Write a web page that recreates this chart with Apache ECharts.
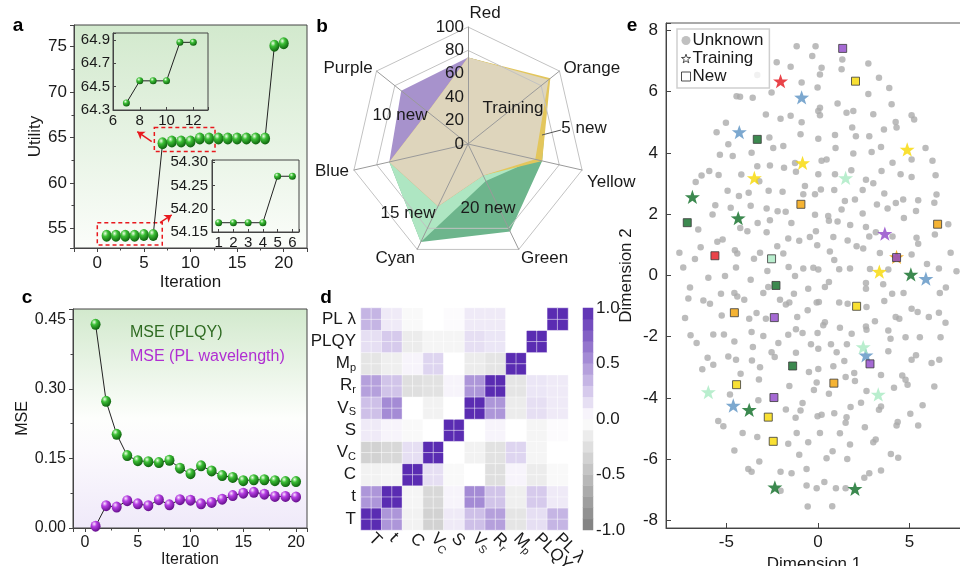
<!DOCTYPE html>
<html>
<head>
<meta charset="utf-8">
<title>Figure</title>
<script src="https://cdn.jsdelivr.net/npm/echarts@6.0.0/dist/echarts.min.js"></script>
<style>
  html, body { margin: 0; padding: 0; background: #fff; }
  #main { width: 960px; height: 566px; }
</style>
</head>
<body>
<div id="main"></div>
<script>
// panel a: utility per iteration
const iterations = [1, 2, 3, 4, 5, 6, 7, 8, 9, 10, 11, 12, 13, 14, 15, 16, 17, 18, 19, 20]
const utility = [54.17, 54.17, 54.17, 54.17, 54.27, 54.27, 64.36, 64.55, 64.55, 64.55,
  64.88, 64.88, 64.88, 64.88, 64.88, 64.88, 64.88, 64.88, 75.11, 75.37]

// panel b: radar, axes listed counter-clockwise from the top
const radarAxes = ['Red', 'Purple', 'Blue', 'Cyan', 'Green', 'Yellow', 'Orange']
const radarNames = ['20 new', '15 new', '10 new', '5 new', 'Training']
const new20 = [74, 44, 69, 93, 83, 65, 88]
const new15 = [74, 44, 69, 93, 35, 59, 88]
const new10 = [74, 73, 69, 59, 30, 59, 88]
const new5 = [74, 44, 69, 59, 30, 65, 90]
const training = [74, 44, 69, 59, 30, 59, 88]

// panel c: MSE per iteration
const msePLQY = [0.439, 0.273, 0.202, 0.156, 0.145, 0.143, 0.141, 0.146, 0.129, 0.117,
  0.134, 0.123, 0.113, 0.109, 0.102, 0.104, 0.104, 0.102, 0.100, 0.100]
const mseWave = [0.004, 0.048, 0.045, 0.059, 0.052, 0.048, 0.061, 0.050, 0.061, 0.060,
  0.052, 0.055, 0.062, 0.070, 0.075, 0.077, 0.073, 0.068, 0.068, 0.067]

// panel d: correlation matrix, rows/cols in order of corrLabels (bottom -> top)
const corrLabels = ['T', 't', 'C', 'V_C', 'S', 'V_S', 'R_r', 'M_p', 'PLQY', 'PL λ']
const corrMatrix = [
  [1, 0.5, -0.1, -0.35, 0.1, 0.3, 0.45, -0.2, 0.15, 0.35],
  [0.5, 1, -0.08, -0.3, 0.05, 0.55, 0.28, -0.12, 0.25, 0.1],
  [-0.1, -0.08, 1, 0.15, -0.05, 0.0, -0.25, 0.05, -0.15, -0.05],
  [-0.35, -0.3, 0.15, 1, 0.0, -0.1, -0.22, 0.2, -0.08, 0.0],
  [0.1, 0.05, -0.05, 0.0, 1, 0.0, 0.05, 0.0, -0.08, 0.02],
  [0.3, 0.55, 0.0, -0.1, 0.0, 1, 0.5, -0.15, 0.15, 0.1],
  [0.45, 0.28, -0.25, -0.22, 0.05, 0.5, 1, -0.2, 0.12, 0.1],
  [-0.2, -0.12, 0.05, 0.2, 0.0, -0.15, -0.2, 1, 0.0, 0.0],
  [0.15, 0.25, -0.15, -0.08, -0.08, 0.15, 0.12, 0.0, 1, 0.0],
  [0.35, 0.1, -0.05, 0.0, 0.02, 0.1, 0.1, 0.0, 0.0, 1]
]
const colorbarSteps = [-0.95, -0.85, -0.75, -0.65, -0.55, -0.45, -0.35, -0.25, -0.15, -0.05,
  0.05, 0.15, 0.25, 0.35, 0.45, 0.55, 0.65, 0.75, 0.85, 0.95]

// panel e: embedding
const unknownPts = [
  [-1.16, 7.48], [-2.25, 6.96], [-1.49, 6.81], [-3.31, 6.54], [-0.89, 6.3], [-4.44, 5.85], [-4.25, 5.83],
  [-3.56, 5.8], [-2.53, 5.97], [-2.84, 5.25], [-2.04, 5.11], [-1.49, 5.21], [-0.89, 5.0], [-5.02, 4.98],
  [-5.53, 4.67], [-2.65, 4.5], [-0.95, 4.61], [-4.89, 4.28], [-2.44, 4.16], [-1.89, 4.22], [-3.62, 4.0],
  [-5.35, 3.94], [-4.65, 3.9], [-3.31, 3.56], [-2.62, 3.59], [-1.85, 3.51], [-1.25, 3.67], [-1.2, 3.38],
  [-5.93, 3.41], [-6.35, 3.26], [-6.67, 3.05], [-5.42, 3.28], [-4.18, 3.29], [-0.71, 2.92], [-3.2, 3.07],
  [-2.69, 2.76], [-1.93, 2.73], [-4.93, 2.76], [-4.31, 2.59], [-3.78, 2.7], [-0.8, 2.65], [-5.6, 2.29],
  [-5.75, 1.99], [-4.76, 2.21], [-3.67, 2.27], [-2.8, 2.18], [-2.2, 2.09], [-1.76, 2.08], [-3.29, 1.71],
  [-2.62, 1.8], [-1.45, 1.71], [-6.53, 1.5], [-4.24, 1.55], [-3.85, 1.44], [-2.8, 1.41], [-1.62, 1.2],
  [-1.02, 1.13], [-5.49, 1.1], [-5.2, 1.17], [-6.4, 0.92], [-7.56, 0.74], [-6.71, 0.53], [-4.53, 0.82],
  [-4.4, 0.71], [-3.16, 0.74], [-2.22, 0.95], [-1.89, 0.71], [-3.49, 0.54], [-7.35, 0.26], [-4.47, 0.26],
  [-2.76, 0.14], [-1.6, 0.27], [-0.8, 0.22],
  [-0.13, 7.48], [-0.31, 7.16], [1.33, 7.05], [1.29, 6.73], [0.2, 6.78], [0.11, 6.56], [2.75, 6.92],
  [3.33, 6.45], [-0.02, 6.13], [2.75, 5.92], [3.89, 6.12], [1.07, 5.61], [4.02, 5.59], [0.11, 5.47],
  [0.02, 5.37], [0.11, 5.23], [1.56, 5.31], [1.93, 5.37], [3.02, 5.26], [5.11, 5.23], [5.25, 5.09],
  [4.24, 5.01], [4.29, 4.83], [1.87, 4.83], [3.6, 4.76], [2.07, 4.54], [2.8, 4.54], [0.93, 4.58],
  [0.02, 4.46], [0.96, 4.16], [3.44, 4.19], [2.93, 4.03], [1.93, 3.98], [5.87, 4.16], [5.11, 3.78],
  [6.25, 3.74], [0.2, 3.74], [0.47, 3.78], [4.07, 3.68], [3.47, 3.41], [0.02, 3.3], [0.93, 3.3],
  [4.51, 3.3], [5.11, 3.21], [6.42, 3.27], [1.82, 3.43], [2.62, 3.12], [3.02, 3.01], [2.44, 2.79],
  [0.16, 2.8], [-0.16, 2.65], [0.89, 2.79], [3.62, 2.67], [6.47, 2.64], [1.47, 2.43], [2.02, 2.48],
  [3.22, 2.31], [3.8, 2.18], [4.25, 2.36], [4.65, 2.48], [5.47, 2.45], [6.35, 2.37], [1.29, 2.15],
  [5.35, 2.1], [-0.16, 1.98], [0.56, 1.94], [0.6, 1.78], [1.07, 1.76], [2.44, 2.02], [4.69, 1.87],
  [1.76, 1.64], [2.62, 1.58], [3.16, 1.41], [-0.11, 1.44], [-0.44, 1.25], [0.84, 1.25], [1.62, 1.14],
  [4.07, 1.27], [2.8, 1.27], [5.38, 1.23], [5.47, 1.03], [7.11, 1.67], [6.38, 1.33], [-0.04, 0.98],
  [2.11, 0.95], [2.47, 0.88], [0.65, 0.78], [3.38, 0.73], [5.11, 0.68], [7.24, 0.74], [0.89, 0.5],
  [5.95, 0.37], [6.6, 0.22], [7.56, 0.13], [-0.25, 0.25], [0.02, 0.19], [1.16, 0.2], [1.75, 0.22],
  [2.84, 0.21], [3.84, 0.19],
  [-5.98, -0.08], [-5.07, -0.02], [-3.67, -0.14], [-1.25, -0.02], [-6.98, -0.4], [-7.07, -0.76],
  [-6.25, -0.82], [-5.89, -0.93], [-5.29, -0.6], [-4.56, -0.58], [-4.4, -0.69], [-4.02, -0.8],
  [-2.98, -0.58], [-2.71, -0.38], [-2.07, -0.8], [-1.75, -0.95], [-1.56, -0.89], [-1.31, -0.6],
  [-0.56, -1.14], [-7.25, -1.39], [-5.25, -1.31], [-3.75, -1.42], [-3.35, -1.23], [-2.84, -1.42],
  [-1.13, -1.36], [-6.95, -1.96], [-6.62, -2.21], [-5.71, -1.93], [-5.13, -1.93], [-4.56, -2.16],
  [-3.62, -1.85], [-2.98, -1.98], [-2.16, -2.21], [-1.62, -1.94], [-1.2, -1.76], [-0.84, -1.88],
  [-6.02, -2.69], [-5.71, -2.92], [-6.31, -3.07], [-4.89, -2.65], [-4.47, -2.76], [-4.22, -3.21],
  [-3.6, -2.78], [-3.55, -2.34], [-3.16, -3.0], [-2.53, -2.51], [-2.36, -2.67], [-1.2, -2.53],
  [-3.22, -3.4], [-1.56, -3.61], [-4.8, -3.89], [-3.25, -4.08], [-1.75, -4.38], [-1.22, -4.65],
  [-0.95, -4.41], [-0.84, -4.17], [-5.44, -4.76], [-5.16, -4.93], [-4.11, -5.15], [-3.31, -5.28],
  [-1.16, -5.15], [-1.62, -5.5], [-0.53, -5.45], [-4.56, -5.72], [-1.02, -5.86], [-3.2, -6.08],
  [-3.8, -6.32], [-3.62, -6.41], [-2.04, -6.41], [-1.44, -6.46], [-0.62, -6.32], [-2.04, -7.03],
  [-0.62, -6.86], [-0.56, -7.55],
  [-0.53, -0.44], [0.38, -0.38], [0.6, -0.22], [2.62, -0.25], [2.62, -0.44], [3.56, -0.29],
  [4.05, -0.6], [4.67, -0.58], [6.65, -0.58], [6.98, -0.4], [-0.07, -0.89], [0.05, -0.87],
  [1.16, -0.89], [1.62, -0.93], [2.65, -1.03], [3.62, -0.84], [5.11, -1.09], [5.44, -1.2],
  [6.05, -1.36], [6.6, -1.22], [6.96, -1.55], [4.24, -1.36], [4.44, -1.42], [3.11, -1.5],
  [2.62, -1.67], [2.65, -1.78], [3.84, -1.8], [3.96, -2.07], [4.78, -2.02], [5.56, -2.02],
  [6.69, -2.02], [0.38, -1.53], [0.29, -1.63], [1.2, -1.71], [1.84, -1.91], [-0.02, -1.88],
  [-0.38, -2.25], [0.02, -2.4], [0.71, -2.25], [1.02, -2.51], [1.58, -2.25], [3.84, -2.48],
  [5.11, -2.76], [5.35, -2.61], [6.2, -2.86], [6.62, -2.76], [0.84, -2.97], [1.44, -2.8],
  [0.02, -3.06], [-0.49, -3.16], [1.98, -3.19], [1.51, -3.32], [2.02, -3.45], [3.44, -3.25],
  [4.6, -3.27], [4.78, -3.41], [4.89, -3.57], [-0.07, -3.5], [-0.22, -3.74], [0.6, -3.87],
  [2.65, -3.78], [4.15, -3.67], [6.35, -3.63], [5.71, -4.24], [2.35, -4.16], [1.78, -4.3],
  [3.44, -4.28], [3.33, -4.39], [-0.02, -4.6], [0.2, -4.55], [0.89, -4.5], [1.56, -4.63],
  [1.51, -4.81], [5.04, -4.52], [4.35, -4.79], [4.29, -4.9], [5.47, -4.9], [2.56, -4.96],
  [0.11, -5.15], [1.2, -5.16], [1.75, -5.52], [3.02, -5.45], [3.15, -5.36], [0.8, -5.74],
  [0.47, -5.97], [1.6, -6.0], [3.98, -5.83], [4.38, -5.96], [3.44, -6.37], [2.8, -6.46],
  [2.53, -6.61], [-0.07, -6.95], [0.35, -6.75], [0.98, -6.95], [1.51, -6.95], [0.78, -7.54]
]
const trainingPts = [
  [-2.04, 6.34, 'Red'], [-0.89, 5.81, 'Blue'], [-4.29, 4.68, 'Blue'], [-0.84, 3.67, 'Yellow'],
  [-3.47, 3.18, 'Yellow'], [-6.85, 2.56, 'Green'], [-4.35, 1.87, 'Green'], [4.87, 4.11, 'Yellow'],
  [1.51, 3.18, 'Cyan'], [3.65, 1.36, 'Purple'], [4.29, 0.6, 'Orange'], [3.35, 0.12, 'Yellow'],
  [5.07, 0.03, 'Green'], [5.89, -0.11, 'Blue'], [2.62, -2.61, 'Blue'], [2.47, -2.34, 'Cyan'],
  [3.29, -3.89, 'Cyan'], [2.02, -6.97, 'Green'], [-5.98, -3.81, 'Cyan'], [-4.62, -4.25, 'Blue'],
  [-3.75, -4.39, 'Green'], [-2.35, -6.92, 'Green']
]
const newPts = [
  [1.35, 7.41, 'Purple'], [2.05, 6.34, 'Yellow'], [-3.31, 4.44, 'Green'], [-0.93, 2.32, 'Orange'],
  [6.53, 1.67, 'Orange'], [-7.13, 1.72, 'Green'], [-5.62, 0.64, 'Red'], [-2.53, 0.54, 'Cyan'],
  [4.29, 0.58, 'Purple'], [-2.29, -0.33, 'Green'], [-4.56, -1.22, 'Orange'], [-2.38, -1.38, 'Purple'],
  [2.11, -1.01, 'Yellow'], [-1.38, -2.96, 'Green'], [2.84, -2.89, 'Purple'], [0.87, -3.52, 'Orange'],
  [-4.44, -3.57, 'Yellow'], [-2.4, -3.99, 'Purple'], [-2.71, -4.63, 'Yellow'], [-2.44, -5.42, 'Yellow']
]

const classColor = {
  Red: '#e3141c', Orange: '#f2a000', Yellow: '#f7d800', Green: '#0b6b23',
  Cyan: '#a7eac2', Blue: '#5b92c3', Purple: '#8e45c8'
}
const FONT = '"Liberation Sans", Arial, sans-serif'
const STAR = 'path://M0,-10L2.35,-3.24L9.51,-3.09L3.8,1.24L5.88,8.09L0,4L-5.88,8.09L-3.8,1.24L-9.51,-3.09L-2.35,-3.24Z'

// 3d ball look for the line markers
function ball(light, mid, dark) {
  return {
    type: 'radial', x: 0.36, y: 0.3, r: 0.75,
    colorStops: [{ offset: 0, color: light }, { offset: 0.35, color: mid }, { offset: 1, color: dark }]
  }
}
const greenBall = ball('#f0ffe8', '#3cbf36', '#0a5a0a')
const purpleBall = ball('#fbe6ff', '#b53ee2', '#5e0a85')

// only label the ticks that sit on the step grid (hides extent labels)
function tickFmt(base, step, digits) {
  return function (v) {
    const k = (v - base) / step
    return Math.abs(k - Math.round(k)) < 1e-6 ? v.toFixed(digits) : ''
  }
}

function valAxis(o) {
  const fs = o.fontSize || 17
  return Object.assign({
    type: 'value',
    splitLine: { show: false },
    axisLine: { show: true, onZero: false, lineStyle: { color: '#444', width: 1 } },
    axisTick: { show: true, inside: !!o.inside, length: o.tickLen || 4, lineStyle: { color: '#444' } },
    minorTick: { show: !!o.minor, splitNumber: o.minor || 2, length: 2.5, lineStyle: { color: '#444' } },
    axisLabel: { fontSize: fs, color: '#1a1a1a', margin: o.margin == null ? 7 : o.margin, formatter: o.fmt },
    nameLocation: 'middle',
    nameTextStyle: { fontSize: fs, color: '#1a1a1a' }
  }, o.opt)
}

// heatmap drawn on a 20x20 sub grid so each cell shows the faint 2x2 split
const corrCells = []
corrMatrix.forEach((row, r) => {
  row.forEach((v, c) => {
    for (let dy = 0; dy < 2; dy++) {
      for (let dx = 0; dx < 2; dx++) corrCells.push([2 * c + dx, 2 * r + dy, v])
    }
  })
})
const sub20 = Array.from({ length: 20 }, (_, i) => String(i))

function corrLabel(name) {
  if (name.indexOf('_') > 0) {
    const p = name.split('_')
    return '{b|' + p[0] + '}{s|' + p[1] + '}'
  }
  return '{b|' + name + '}'
}
const corrRich = {
  b: { fontSize: 17, color: '#1a1a1a', fontFamily: FONT },
  s: { fontSize: 11, color: '#1a1a1a', fontFamily: FONT, padding: [9, 0, 0, 0] }
}

// radar axis names: nudge a few to where the figure has them
const radarNameKey = { Red: 'r', Yellow: 'y', Green: 'g', Cyan: 'c' }
const radarRich = {
  r: { fontSize: 17, color: '#1a1a1a', padding: [0, 0, 0, 34] },
  y: { fontSize: 17, color: '#1a1a1a', padding: [22, 0, 0, 0] },
  g: { fontSize: 17, color: '#1a1a1a', padding: [9, 0, 0, 0] },
  c: { fontSize: 17, color: '#1a1a1a', padding: [9, 0, 0, 0] }
}

const gradA = {
  type: 'linear', x: 0, y: 0, x2: 0, y2: 1,
  colorStops: [{ offset: 0, color: '#d2e9cd' }, { offset: 1, color: '#fbfdfa' }]
}
const gradC = {
  type: 'linear', x: 0, y: 0, x2: 0, y2: 1,
  colorStops: [
    { offset: 0, color: '#d2e9cd' }, { offset: 0.5, color: '#fdfefc' },
    { offset: 0.65, color: '#fbf9fd' }, { offset: 1, color: '#efe9f9' }
  ]
}

const chart = echarts.init(document.getElementById('main'))

chart.setOption({
  animation: false,
  textStyle: { fontFamily: FONT },
  grid: [
    { left: 74, top: 25, width: 233, height: 223, show: true, backgroundColor: gradA, borderColor: '#444', borderWidth: 1, outerBoundsMode: 'none' },
    { left: 113, top: 33, width: 95, height: 77, show: true, backgroundColor: 'rgba(0,0,0,0)', borderColor: '#444', borderWidth: 1, outerBoundsMode: 'none' },
    { left: 212, top: 160, width: 87, height: 72, show: true, backgroundColor: 'rgba(0,0,0,0)', borderColor: '#444', borderWidth: 1, outerBoundsMode: 'none' },
    { left: 73, top: 309, width: 234, height: 219, show: true, backgroundColor: gradC, borderColor: '#444', borderWidth: 1, outerBoundsMode: 'none' },
    { left: 361, top: 308, width: 207, height: 222, outerBoundsMode: 'none' },
    { left: 583, top: 308, width: 10, height: 222, outerBoundsMode: 'none' },
    { left: 666, top: 23, width: 296, height: 505, show: true, borderColor: '#555', borderWidth: 1, outerBoundsMode: 'none' }
  ],
  xAxis: [
    valAxis({ minor: 2, fmt: tickFmt(0, 5, 0), opt: { gridIndex: 0, min: -2.5, max: 22.5, minInterval: 5, maxInterval: 5, name: 'Iteration', nameGap: 26 } }),
    valAxis({ fontSize: 15, inside: true, tickLen: 3, margin: 3, fmt: tickFmt(6, 2, 0), opt: { gridIndex: 1, min: 6, max: 13.1, interval: 2 } }),
    valAxis({ fontSize: 15, inside: true, tickLen: 3, margin: 3, fmt: tickFmt(0, 1, 0), opt: { gridIndex: 2, min: 0.55, max: 6.45, minInterval: 1, maxInterval: 1 } }),
    valAxis({ fontSize: 16, minor: 2, fmt: tickFmt(0, 5, 0), opt: { gridIndex: 3, min: -1.14, max: 21.04, minInterval: 5, maxInterval: 5, name: 'Iteration', nameGap: 20 } }),
    {
      gridIndex: 4, type: 'category', data: corrLabels, position: 'bottom',
      axisLine: { show: false }, axisTick: { show: false }, splitLine: { show: false },
      axisLabel: { rotate: -45, margin: 6, interval: 0, formatter: corrLabel, rich: corrRich }
    },
    { gridIndex: 4, type: 'category', data: sub20, show: false, position: 'top' },
    { gridIndex: 5, type: 'category', data: ['bar'], show: false },
    valAxis({ inside: true, tickLen: 5, margin: 6, fmt: tickFmt(0, 5, 0), opt: { gridIndex: 6, min: -8.29, max: 7.86, minInterval: 5, maxInterval: 5, name: 'Dimension 1', nameGap: 11 } })
  ],
  yAxis: [
    valAxis({ minor: 2, fmt: tickFmt(0, 5, 0), opt: { gridIndex: 0, min: 52.83, max: 77.39, minInterval: 5, maxInterval: 5, name: 'Utility', nameGap: 30 } }),
    valAxis({ fontSize: 15, inside: true, tickLen: 3, margin: 3, fmt: tickFmt(64.3, 0.2, 1), opt: { gridIndex: 1, min: 64.3, max: 64.96, interval: 0.2 } }),
    valAxis({ fontSize: 15, inside: true, tickLen: 3, margin: 4, fmt: tickFmt(54.15, 0.05, 2), opt: { gridIndex: 2, min: 54.15, max: 54.305, interval: 0.05 } }),
    valAxis({ fontSize: 16, minor: 2, fmt: tickFmt(0, 0.15, 2), opt: { gridIndex: 3, min: 0, max: 0.472, interval: 0.15, name: 'MSE', nameGap: 40 } }),
    {
      gridIndex: 4, type: 'category', data: corrLabels, position: 'left',
      axisLine: { show: false }, axisTick: { show: false }, splitLine: { show: false },
      axisLabel: { margin: 5, interval: 0, formatter: corrLabel, rich: corrRich }
    },
    { gridIndex: 4, type: 'category', data: sub20, show: false, position: 'right' },
    { gridIndex: 5, type: 'category', data: colorbarSteps.map(String), show: false, position: 'left' },
    {
      gridIndex: 5, type: 'value', min: -1, max: 1, interval: 0.5, position: 'right',
      axisLine: { show: false }, axisTick: { show: false }, splitLine: { show: false },
      axisLabel: { fontSize: 17, color: '#1a1a1a', margin: 3, formatter: (v) => v.toFixed(1) }
    },
    valAxis({ inside: true, tickLen: 5, margin: 8, fmt: tickFmt(0, 2, 0), opt: { gridIndex: 6, min: -8.25, max: 8.24, minInterval: 2, maxInterval: 2, name: 'Dimension 2', nameGap: 31 } })
  ],
  radar: {
    center: [468, 144],
    radius: 117,
    startAngle: 90,
    splitNumber: 5,
    shape: 'polygon',
    z: 5,
    nameGap: 5,
    indicator: radarAxes.map((n, i) => ({
      name: n, min: 0, max: 100,
      axisLabel: i === 0 ? { show: true, fontSize: 17, color: '#1a1a1a', margin: 4 } : { show: false }
    })),
    axisName: {
      color: '#1a1a1a', fontSize: 17,
      formatter: (n) => (radarNameKey[n] ? '{' + radarNameKey[n] + '|' + n + '}' : n),
      rich: radarRich
    },
    axisLine: { lineStyle: { color: '#9a9a9a', width: 1 } },
    splitArea: { show: false },
    splitLine: { lineStyle: { color: ['rgba(0,0,0,0)', 'rgba(0,0,0,0)', 'rgba(0,0,0,0)', 'rgba(0,0,0,0)', '#c2c2c2', '#c2c2c2'], width: 1 } },
    axisLabel: { show: false }
  },
  visualMap: {
    type: 'continuous', show: false, min: -1, max: 1, dimension: 2, seriesIndex: [5, 6],
    inRange: { color: ['#7d7d7d', '#ffffff', '#5a2cb2'] }
  },
  legend: {
    left: 677, top: 29, orient: 'vertical', itemGap: 1, itemWidth: 9, itemHeight: 9,
    padding: [3, 6, 3, 4], borderColor: '#cfcfcf', borderWidth: 1.5,
    backgroundColor: 'rgba(255,255,255,0.8)',
    textStyle: { fontSize: 17, color: '#1a1a1a', padding: [0, 0, 0, -3] },
    data: [
      { name: 'Unknown', icon: 'circle', itemStyle: { color: '#b0b0b0' } },
      { name: 'Training', icon: STAR, itemStyle: { color: '#fff', borderColor: '#222', borderWidth: 1 } },
      { name: 'New', icon: 'rect', itemStyle: { color: '#fff', borderColor: '#222', borderWidth: 1 } }
    ]
  },
  series: [
    {
      type: 'line', xAxisIndex: 0, yAxisIndex: 0,
      data: iterations.map((x, i) => [x, utility[i]]),
      symbol: 'circle', symbolSize: [10, 12],
      lineStyle: { color: '#222', width: 1 },
      itemStyle: { color: greenBall },
      markArea: {
        silent: true,
        itemStyle: { color: 'rgba(0,0,0,0)', borderColor: '#e8191e', borderWidth: 1.5, borderType: [4, 3] },
        data: [
          [{ coord: [0.0, 55.62] }, { coord: [6.97, 53.16] }],
          [{ coord: [6.12, 66.1] }, { coord: [12.63, 63.45] }]
        ]
      },
      markLine: {
        silent: true, symbol: ['none', 'arrow'], symbolSize: 7, label: { show: false },
        lineStyle: { color: '#e8191e', width: 1.5, type: 'solid' },
        data: [
          [{ coord: [6.73, 55.62] }, { coord: [7.98, 56.47] }],
          [{ coord: [5.84, 64.54] }, { coord: [4.29, 65.64] }]
        ]
      }
    },
    {
      type: 'line', xAxisIndex: 1, yAxisIndex: 1,
      data: iterations.slice(6, 12).map((x, i) => [x, utility[i + 6]]),
      symbol: 'circle', symbolSize: 7,
      lineStyle: { color: '#222', width: 1 },
      itemStyle: { color: greenBall }
    },
    {
      type: 'line', xAxisIndex: 2, yAxisIndex: 2,
      data: iterations.slice(0, 6).map((x, i) => [x, utility[i]]),
      symbol: 'circle', symbolSize: 7,
      lineStyle: { color: '#222', width: 1 },
      itemStyle: { color: greenBall }
    },
    {
      type: 'line', xAxisIndex: 3, yAxisIndex: 3,
      data: iterations.map((x, i) => [x, msePLQY[i]]),
      symbol: 'circle', symbolSize: [10, 11],
      lineStyle: { color: '#222', width: 1 },
      itemStyle: { color: greenBall }
    },
    {
      type: 'line', xAxisIndex: 3, yAxisIndex: 3,
      data: iterations.map((x, i) => [x, mseWave[i]]),
      symbol: 'circle', symbolSize: [10, 11],
      lineStyle: { color: '#222', width: 1 },
      itemStyle: { color: purpleBall }
    },
    {
      type: 'heatmap', xAxisIndex: 5, yAxisIndex: 5, data: corrCells,
      itemStyle: { borderColor: 'rgba(255,255,255,0.6)', borderWidth: 0.8 }
    },
    {
      type: 'heatmap', xAxisIndex: 6, yAxisIndex: 6,
      data: colorbarSteps.map((v, i) => [0, i, v])
    },
    {
      type: 'radar', symbol: 'none', z: 2,
      lineStyle: { width: 0 },
      data: [
        { name: radarNames[0], value: new20, areaStyle: { color: '#6db58c', opacity: 1 } },
        { name: radarNames[1], value: new15, areaStyle: { color: '#aee6c2', opacity: 1 } },
        { name: radarNames[2], value: new10, areaStyle: { color: '#a792cc', opacity: 1 } },
        { name: radarNames[3], value: new5, areaStyle: { color: '#e3c65c', opacity: 1 } },
        { name: radarNames[4], value: training, areaStyle: { color: '#ded5bc', opacity: 1 } }
      ]
    },
    {
      name: 'Unknown', type: 'scatter', xAxisIndex: 7, yAxisIndex: 8,
      data: unknownPts, symbol: 'circle', symbolSize: 6.5,
      itemStyle: { color: '#ababab' }
    },
    {
      name: 'Training', type: 'scatter', xAxisIndex: 7, yAxisIndex: 8,
      symbol: STAR, symbolSize: 15, symbolKeepAspect: true,
      data: trainingPts.map((p) => ({ value: [p[0], p[1]], itemStyle: { color: classColor[p[2]] } }))
    },
    {
      name: 'New', type: 'scatter', xAxisIndex: 7, yAxisIndex: 8,
      symbol: 'rect', symbolSize: 8,
      data: newPts.map((p) => ({ value: [p[0], p[1]], itemStyle: { color: classColor[p[2]], borderColor: '#3a3a3a', borderWidth: 1 } }))
    }
  ],
  graphic: [
    { type: 'text', z: 100, style: { x: 18, y: 26, text: 'a', font: 'bold 19px ' + FONT, fill: '#000', textAlign: 'center', textVerticalAlign: 'middle' } },
    { type: 'text', z: 100, style: { x: 322, y: 27, text: 'b', font: 'bold 19px ' + FONT, fill: '#000', textAlign: 'center', textVerticalAlign: 'middle' } },
    { type: 'text', z: 100, style: { x: 27, y: 298, text: 'c', font: 'bold 19px ' + FONT, fill: '#000', textAlign: 'center', textVerticalAlign: 'middle' } },
    { type: 'text', z: 100, style: { x: 326, y: 298, text: 'd', font: 'bold 19px ' + FONT, fill: '#000', textAlign: 'center', textVerticalAlign: 'middle' } },
    { type: 'text', z: 100, style: { x: 632, y: 26, text: 'e', font: 'bold 19px ' + FONT, fill: '#000', textAlign: 'center', textVerticalAlign: 'middle' } },
    { type: 'text', z: 100, style: { x: 513, y: 108, text: 'Training', font: '17px ' + FONT, fill: '#1a1a1a', textAlign: 'center', textVerticalAlign: 'middle' } },
    { type: 'text', z: 100, style: { x: 584, y: 128, text: '5 new', font: '17px ' + FONT, fill: '#1a1a1a', textAlign: 'center', textVerticalAlign: 'middle' } },
    { type: 'line', z: 100, shape: { x1: 542, y1: 135, x2: 561, y2: 130 }, style: { stroke: '#555', lineWidth: 1 } },
    { type: 'text', z: 100, style: { x: 400, y: 115, text: '10 new', font: '17px ' + FONT, fill: '#1a1a1a', textAlign: 'center', textVerticalAlign: 'middle' } },
    { type: 'text', z: 100, style: { x: 408, y: 213, text: '15 new', font: '17px ' + FONT, fill: '#1a1a1a', textAlign: 'center', textVerticalAlign: 'middle' } },
    { type: 'text', z: 100, style: { x: 488, y: 208, text: '20 new', font: '17px ' + FONT, fill: '#1a1a1a', textAlign: 'center', textVerticalAlign: 'middle' } },
    { type: 'text', z: 100, style: { x: 130, y: 333, text: 'MSE (PLQY)', font: '16px ' + FONT, fill: '#2f6b22', textAlign: 'left', textVerticalAlign: 'middle' } },
    { type: 'text', z: 100, style: { x: 130, y: 357, text: 'MSE (PL wavelength)', font: '16px ' + FONT, fill: '#b02ed2', textAlign: 'left', textVerticalAlign: 'middle' } }
  ]
})
</script>
</body>
</html>
